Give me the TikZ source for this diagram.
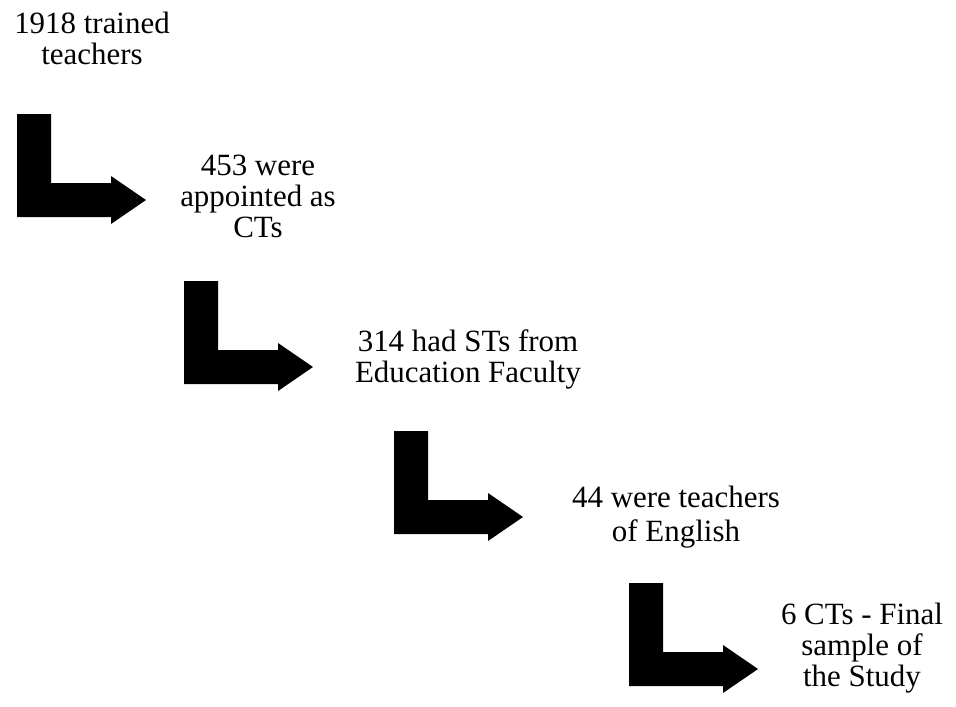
\documentclass[tikz,border=0pt]{standalone}
\usepackage{fontspec}
\setmainfont{Liberation Serif}
\usepackage{tikz}
\usetikzlibrary{positioning}
\tikzset{
  flowtext/.style={align=center,inner sep=0pt,font=\fontsize{22}{22}\selectfont},
  bentarrow/.style={fill=black,draw=none}
}

\begin{document}
\begin{tikzpicture}[x=0.025cm,y=-0.025cm]
\path[use as bounding box] (0,0) rectangle (956,706);
% bent block arrows, one per step
\foreach \ax/\ay in {17/114,184/281,394/431,629/583}{
  \fill[bentarrow,shift={(\ax,\ay)}] (0,0)--(34,0)--(34,69)--(94,69)--(94,62)
    --(129,86)--(94,110)--(94,103)--(0,103)--cycle;
}
\node[flowtext] (trained) at (92,38) {1918 trained\\teachers};
\node[flowtext] (appointed) at (258,196) {453 were\\appointed as\\CTs};
\node[flowtext] (faculty) at (468,359) {314 had STs from\\Education Faculty};
\node[flowtext,font=\fontsize{22}{24}\selectfont] (english) at (676,517) {44 were teachers\\of English};
\node[flowtext] (sample) at (862,648) {6 CTs - Final\\sample of\\the Study};
\end{tikzpicture}
\end{document}
